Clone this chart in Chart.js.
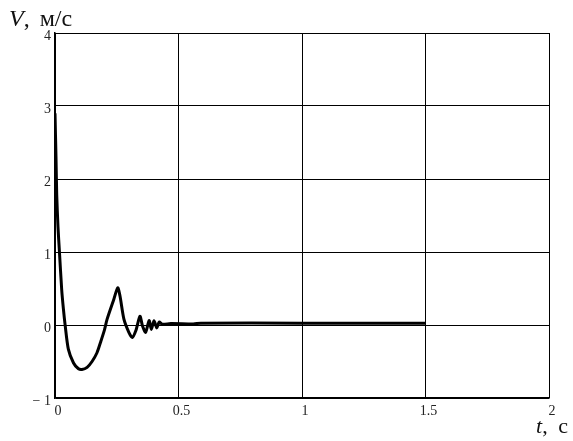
<!DOCTYPE html>
<html>
<head>
<meta charset="utf-8">
<script src="https://cdn.jsdelivr.net/npm/chart.js@4"></script>
<style>
    body { margin: 0; background: #fff; }
    #wrap { position: relative; width: 573px; height: 441px; }
    .axisTitle { position: absolute; font-family: "Liberation Serif", "DejaVu Serif", serif; color: #111; white-space: pre; }
</style>
</head>
<body>
<div id="wrap">
    <canvas id="chart" width="573" height="441"></canvas>
    <div class="axisTitle" style="left:9px; top:5px; font-size:24px; word-spacing:4px;"><i>V</i>, м/с</div>
    <div class="axisTitle" style="left:536px; top:413px; font-size:22px; word-spacing:5px;"><i>t</i>, c</div>
</div>
<script>
// time, s
const tValues = [0, 0.002, 0.004, 0.007, 0.012, 0.018, 0.027, 0.034, 0.041, 0.054,
    0.075, 0.095, 0.109, 0.13, 0.15, 0.17, 0.184, 0.2, 0.211, 0.238,
    0.254, 0.263, 0.279, 0.299, 0.313, 0.327, 0.344, 0.354, 0.367, 0.381,
    0.39, 0.401, 0.412, 0.422, 0.435, 0.469, 0.56, 0.59, 1.0, 1.5];
// velocity, m/s
const vValues = [2.9, 2.6, 2.3, 1.78, 1.35, 1.0, 0.49, 0.22, 0, -0.33,
    -0.52, -0.6, -0.61, -0.58, -0.5, -0.38, -0.24, -0.07, 0.08, 0.35,
    0.51, 0.4, 0.08, -0.1, -0.17, -0.08, 0.12, -0.01, -0.1, 0.06,
    -0.06, 0.06, -0.04, 0.04, 0.01, 0.02, 0.015, 0.025, 0.025, 0.025];

const xTicks = [0, 0.5, 1, 1.5, 2];
const yTicks = [-1, 0, 1, 2, 3, 4];

const points = tValues.map((t, i) => ({ x: t, y: vValues[i] }));
const tickFont = { family: '"Liberation Serif", serif', size: 14 };

new Chart(document.getElementById('chart'), {
    type: 'scatter',
    data: {
        datasets: [{
            data: points,
            showLine: true,
            borderColor: '#000',
            borderWidth: 3,
            pointRadius: 0,
            tension: 0.25,
            fill: false
        }]
    },
    options: {
        responsive: false,
        animation: false,
        devicePixelRatio: 1,
        layout: { padding: { top: 33, right: 24, left: 0, bottom: 0 } },
        plugins: { legend: { display: false }, tooltip: { enabled: false } },
        scales: {
            x: {
                type: 'linear',
                min: xTicks[0],
                max: xTicks[xTicks.length - 1],
                afterBuildTicks: (scale) => { scale.ticks = xTicks.map(v => ({ value: v })); },
                afterFit: (scale) => { scale.height = 43; },
                grid: { color: '#000', lineWidth: 1, drawTicks: false },
                border: { color: '#000', width: 1.5 },
                ticks: {
                    color: '#222',
                    font: tickFont,
                    padding: 5,
                    labelOffset: 3,
                    maxRotation: 0,
                    callback: (v) => String(v)
                }
            },
            y: {
                min: yTicks[0],
                max: yTicks[yTicks.length - 1],
                afterBuildTicks: (scale) => { scale.ticks = yTicks.map(v => ({ value: v })); },
                afterFit: (scale) => { scale.width = 55; },
                grid: { color: '#000', lineWidth: 1, drawTicks: false },
                border: { color: '#000', width: 1.5 },
                ticks: {
                    color: '#222',
                    font: tickFont,
                    padding: 4,
                    labelOffset: 3,
                    callback: (v) => v < 0 ? '\u2212 ' + Math.abs(v) : String(v)
                }
            }
        }
    }
});
</script>
</body>
</html>
